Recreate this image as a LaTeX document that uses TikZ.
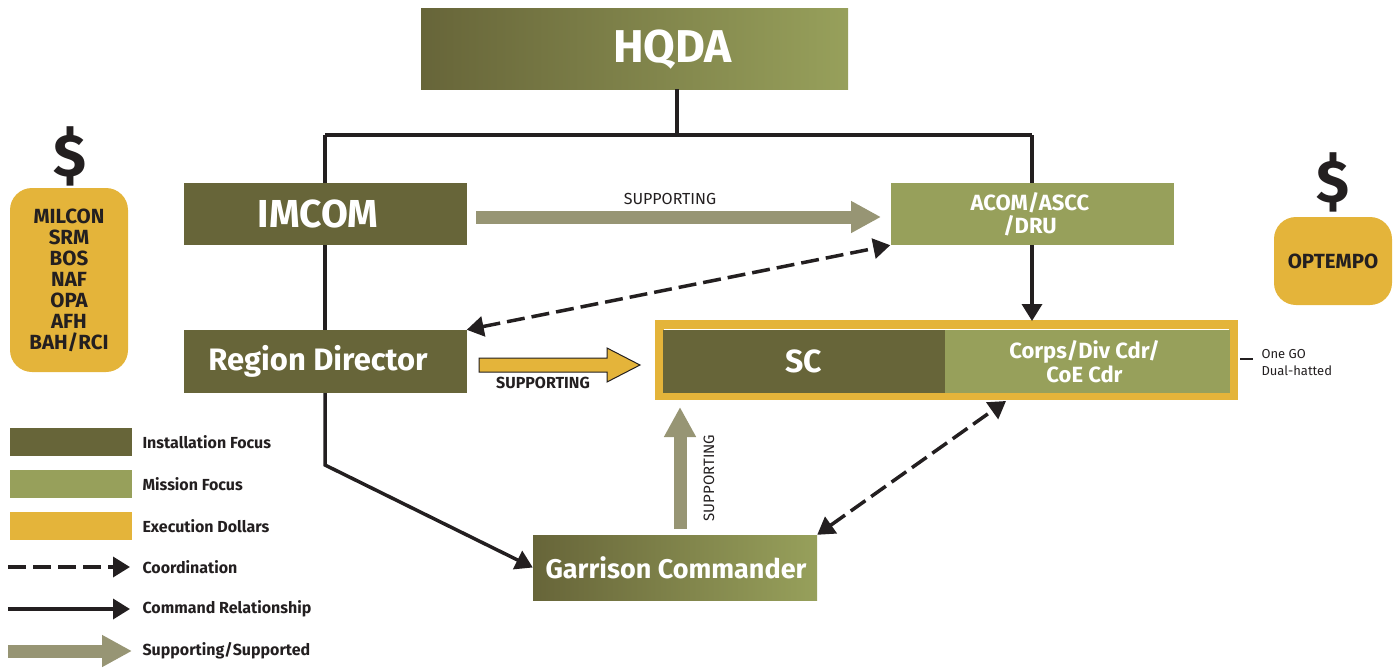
\documentclass[tikz,border=0pt]{standalone}
\usepackage{fontspec}
\setmainfont{Fira Sans}
\usetikzlibrary{arrows.meta}
\definecolor{instc}{HTML}{676539}
\definecolor{misc}{HTML}{97A05B}
\definecolor{gold}{HTML}{E4B43A}
\definecolor{supc}{HTML}{979574}
\definecolor{ink}{HTML}{231F20}
\begin{document}
\begin{tikzpicture}[x=1pt,y=-1pt,
 box/.style={minimum width=283pt,minimum height=62pt,inner sep=0pt},
 inst/.style={box,fill=instc},
 miss/.style={box,fill=misc},
 grad/.style={box,left color=instc,right color=misc},
 btext/.style={text=white,align=center,inner sep=0pt},
 cmd/.style={draw=ink,line width=3.5pt},
 cmdarrow/.style={cmd,-{Triangle[length=17pt,width=20pt]}},
 coordarrow/.style={cmd,dash pattern=on 18pt off 7pt,{Triangle[length=17pt,width=20pt]}-{Triangle[length=17pt,width=20pt]}},
 sup/.style={draw=supc,line width=13pt,-{Triangle[length=30pt,width=30pt]}},
 lbl/.style={font=\fontsize{15}{17}\selectfont,text=ink},
 leg/.style={font=\bfseries\fontsize{16}{18}\selectfont,text=ink,anchor=west},
 swatch/.style={minimum width=122pt,minimum height=28pt,inner sep=0pt},
 money/.style={fill=gold,rounded corners=22pt,inner sep=0pt,align=center,font=\bfseries\fontsize{20.5}{21}\selectfont,text=ink},
 dollar/.style={font=\bfseries\fontsize{60}{60}\selectfont,text=ink}
]
\useasboundingbox (0,0) rectangle (1395,667);

% main boxes
\node[grad,minimum width=427pt,minimum height=81pt] (hqda) at (634.5,48.5) {};
\node[btext,font=\bfseries\fontsize{46}{48}\selectfont] (hqdat) at ([xshift=38pt,yshift=-1pt]hqda.center) {HQDA};
\node[inst] (imcom) at (325,214) {};
\node[btext,font=\bfseries\fontsize{39}{41}\selectfont] (imcomt) at ([xshift=-7pt]imcom.center) {IMCOM};
\node[miss] (acom) at (1032,214) {};
\node[btext,font=\bfseries\fontsize{22}{23}\selectfont] (acomt) at ([xshift=-2pt]acom.center) {ACOM/ASCC\\/DRU};
\node[inst,minimum height=63pt] (rd) at (325,361.5) {};
\node[btext,font=\bfseries\fontsize{31}{33}\selectfont] (rdt) at ([xshift=-7pt]rd.center) {Region Director};
\node[draw=gold,line width=9pt,minimum width=574pt,minimum height=71pt,inner sep=0pt] (frame) at (946.5,360) {};
\node[inst,minimum width=282pt,minimum height=63pt] (sc) at (804,361.5) {};
\node[btext,font=\bfseries\fontsize{32}{34}\selectfont] (sct) at (sc.center) {SC};
\node[miss,minimum width=285pt,minimum height=63pt] (corps) at (1087.5,361.5) {};
\node[btext,font=\bfseries\fontsize{22}{24}\selectfont] (corpst) at ([xshift=-3pt]corps.center) {Corps/Div Cdr/\\CoE Cdr};
\node[grad,minimum width=284pt,minimum height=65pt] (gc) at (675,567.5) {};
\node[btext,font=\bfseries\fontsize{27}{29}\selectfont] (gct) at ([xshift=1pt]gc.center) {Garrison Commander};

% command lines
\coordinate (busM) at (677,135);
\coordinate (busL) at (325,135);
\coordinate (busR) at (1032,135);
\coordinate (bend) at (325,465);
\draw[cmd] (hqda.south -| busM) -- (busM);
\draw[cmd] (busL) -- (busR);
\draw[cmd] (busL) -- (imcom.north);
\draw[cmd] (busR) -- (acom.north);
\draw[cmd] (imcom.south) -- (rd.north);
\draw[cmdarrow] (rd.south) -- (bend) -- (gc.west);
\draw[cmdarrow] (acom.south) -- ([yshift=-1pt]acom.south |- frame.north);

% coordination
\draw[coordarrow] (rd.north east) -- (acom.south west);
\coordinate (cd) at (1006,401);
\draw[coordarrow] (gc.north east) -- (cd);

% supporting arrows
\coordinate (s1a) at (476,217);
\coordinate (s1b) at (881,217);
\draw[sup] (s1a) -- (s1b);
\node[lbl,font=\fontsize{16}{18}\selectfont] (s1l) at (670,199) {SUPPORTING};
\coordinate (s2a) at (680,529);
\coordinate (s2b) at (680,407);
\draw[sup] (s2a) -- (s2b);
\node[lbl,rotate=90] (s2l) at (709,478) {SUPPORTING};
\draw[fill=gold,draw=ink,line width=1pt] (479,358) -- (607,358) -- (607,348) -- (640,365) -- (607,382) -- (607,372) -- (479,372) -- cycle;
\node[lbl,font=\bfseries\fontsize{16}{18}\selectfont] (s3l) at (543,383) {SUPPORTING};

% dual hat note
\draw[ink,line width=1.5pt] (frame.east) ++(2,-1) coordinate (t1) -- ++(13,0) coordinate (t2);
\node[anchor=west,align=left,font=\fontsize{13}{17}\selectfont,text=ink] (note) at (1258,363) {One GO\\Dual-hatted};

% money
\node[dollar] (d1) at (70,156) {\$};
\node[money,minimum width=118pt,minimum height=184pt] (m1) at (69,280) {MILCON\\SRM\\BOS\\NAF\\OPA\\AFH\\BAH/RCI};
\node[dollar] (d2) at (1333,182) {\$};
\node[money,minimum width=118pt,minimum height=88pt] (m2) at (1333,261) {OPTEMPO};

% legend
\node[swatch,fill=instc] (l1) at (71,442) {};
\node[leg] at (139,442) {Installation Focus};
\node[swatch,fill=misc] (l2) at (71,484) {};
\node[leg] at (139,484) {Mission Focus};
\node[swatch,fill=gold] (l3) at (71,526) {};
\node[leg] at (139,526) {Execution Dollars};
\coordinate (l4a) at (8,567); \coordinate (l4b) at (130,567);
\draw[cmd,dash pattern=on 18pt off 7pt,-{Triangle[length=17pt,width=20pt]}] (l4a) -- (l4b);
\node[leg] at (139,567) {Coordination};
\coordinate (l5a) at (8,609); \coordinate (l5b) at (130,609);
\draw[cmdarrow] (l5a) -- (l5b);
\node[leg] at (139,609) {Command Relationship};
\coordinate (l6a) at (8,651); \coordinate (l6b) at (132,651);
\draw[sup] (l6a) -- (l6b);
\node[leg] at (139,651) {Supporting/Supported};
\end{tikzpicture}
\end{document}
